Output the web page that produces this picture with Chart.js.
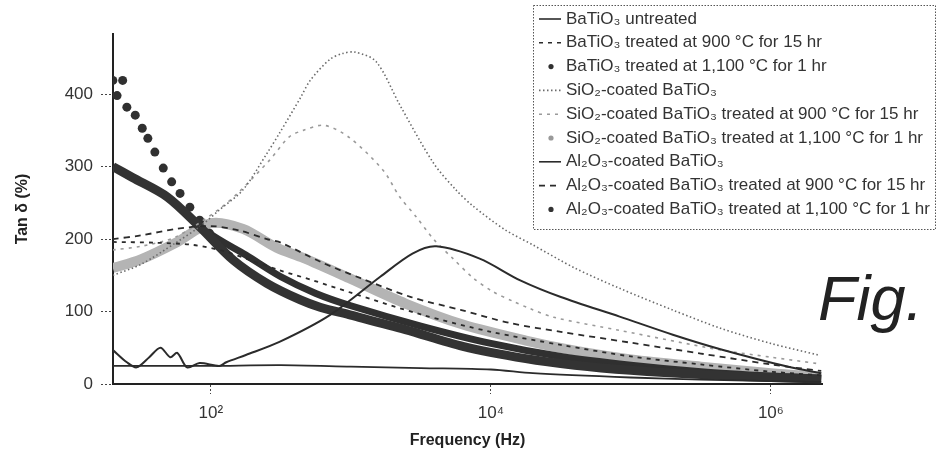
<!DOCTYPE html>
<html>
<head>
<meta charset="utf-8">
<script src="https://cdn.jsdelivr.net/npm/chart.js@4.4.0/dist/chart.umd.min.js"></script>
<style>
  html, body { margin: 0; padding: 0; background: #fff; }
  #wrap { position: relative; width: 938px; height: 462px; }
  #fig { position: absolute; left: 818px; top: 262px; font: italic 63px "Liberation Sans", Arial, sans-serif; color: #222; }
</style>
</head>
<body>
<div id="wrap">
  <canvas id="myChart" width="938" height="462"></canvas>
  <div id="fig">Fig.</div>
</div>
<script>
// frequency is stored as log10(Hz), tan delta in %
const untreatedLogF = [1.3, 1.6, 2.0, 2.5, 3.0, 3.5, 4.0, 4.3, 5.0, 5.5, 6.0, 6.36];
const untreatedTan  = [25, 25, 25, 26, 24, 22, 20, 15, 9, 6, 4, 3];

const bt900LogF = [1.3, 1.6, 1.87, 2.1, 2.28, 2.49, 2.73, 3.0, 3.5, 4.0, 4.5, 5.0, 5.5, 6.0, 6.36];
const bt900Tan  = [196, 195, 192, 183, 171, 157, 143, 126, 96, 72, 54, 38, 27, 17, 12];

const bt1100LogF = [1.30, 1.33, 1.37, 1.40, 1.46, 1.51, 1.55, 1.60, 1.66, 1.72, 1.78, 1.85, 1.92, 1.99, 2.25, 2.5, 2.75, 3.0, 3.5, 4.0, 4.5, 5.0, 5.5, 6.0, 6.36];
const bt1100Tan  = [419, 398, 419, 382, 371, 353, 339, 320, 298, 279, 263, 244, 226, 208, 178, 148, 125, 108, 80, 56, 38, 26, 17, 11, 8];

const sioLogF = [1.3, 1.5, 1.75, 1.92, 2.06, 2.23, 2.4, 2.49, 2.64, 2.71, 2.85, 2.94, 3.03, 3.18, 3.35, 3.59, 3.75, 3.87, 4.1, 4.3, 4.6, 4.92, 5.3, 5.64, 6.0, 6.34];
const sioTan  = [150, 165, 195, 217, 240, 268, 318, 346, 395, 419, 448, 456, 458, 445, 385, 305, 268, 246, 213, 192, 160, 132, 102, 77, 56, 40];

const sio900LogF = [1.3, 1.5, 1.75, 2.05, 2.19, 2.42, 2.56, 2.66, 2.81, 2.99, 3.23, 3.35, 3.47, 3.59, 3.73, 3.87, 4.01, 4.16, 4.28, 4.45, 4.92, 5.64, 6.0, 6.34];
const sio900Tan  = [185, 190, 203, 240, 263, 309, 341, 350, 357, 340, 295, 258, 230, 200, 173, 147, 128, 114, 104, 92, 74, 47, 37, 28];

const sio1100LogF = [1.3, 1.5, 1.75, 2.0, 2.23, 2.47, 2.66, 3.0, 3.39, 3.8, 4.25, 4.6, 5.0, 5.5, 6.0, 6.36];
const sio1100Tan  = [160, 172, 195, 222, 214, 188, 174, 145, 111, 82, 60, 46, 34, 24, 15, 10];

const aloLogF = [1.30, 1.40, 1.47, 1.56, 1.64, 1.71, 1.76, 1.83, 1.92, 2.06, 2.11, 2.25, 2.49, 2.85, 3.21, 3.44, 3.61, 3.92, 4.21, 4.5, 4.92, 5.3, 5.64, 6.14, 6.36];
const aloTan  = [47, 30, 23, 37, 50, 37, 43, 23, 29, 25, 30, 40, 58, 95, 148, 180, 190, 173, 143, 120, 93, 68, 48, 23, 15];

const alo900LogF = [1.3, 1.5, 1.75, 2.0, 2.2, 2.4, 2.5, 2.79, 3.07, 3.43, 3.79, 4.14, 4.5, 5.0, 5.5, 6.0, 6.36];
const alo900Tan  = [200, 205, 214, 218, 212, 200, 195, 168, 146, 120, 102, 84, 72, 57, 42, 27, 18];

const alo1100LogF = [1.30, 1.44, 1.69, 1.92, 2.16, 2.40, 2.64, 2.78, 3.0, 3.39, 3.8, 4.25, 4.6, 5.0, 5.5, 6.0, 6.36];
const alo1100Tan  = [300, 285, 258, 217, 171, 139, 116, 106, 95, 75, 52, 35, 26, 19, 13, 9, 7];

const seriesNames = [
  'BaTiO₃ untreated',
  'BaTiO₃ treated at 900 °C for 15 hr',
  'BaTiO₃ treated at 1,100 °C for 1 hr',
  'SiO₂-coated BaTiO₃',
  'SiO₂-coated BaTiO₃ treated at 900 °C for 15 hr',
  'SiO₂-coated BaTiO₃ treated at 1,100 °C for 1 hr',
  'Al₂O₃-coated BaTiO₃',
  'Al₂O₃-coated BaTiO₃ treated at 900 °C for 15 hr',
  'Al₂O₃-coated BaTiO₃ treated at 1,100 °C for 1 hr'
];

const xTickValues = [1e2, 1e4, 1e6];
const xTickLabels = ['10²', '10⁴', '10⁶'];
const yTickValues = [0, 100, 200, 300, 400];

function pts(lf, v) {
  return lf.map((e, i) => ({ x: Math.pow(10, e), y: v[i] }));
}

const dark = '#2b2b2b';

// legend drawn in a dotted box, top right
const boxLegend = {
  id: 'boxLegend',
  afterDraw(chart) {
    const c = chart.ctx;
    const L = 533, T = 5, R = 936, B = 230;
    c.save();
    c.fillStyle = '#fff';
    c.fillRect(L, T, R - L, B - T);
    c.setLineDash([1.5, 1.5]);
    c.strokeStyle = '#555';
    c.lineWidth = 1;
    c.strokeRect(L + 0.5, T + 0.5, R - L - 1, B - T - 1);
    c.font = '17px "Liberation Sans", Arial, sans-serif';
    c.textBaseline = 'middle';
    chart.data.datasets.forEach((ds, i) => {
      const y = 19 + i * 23.8;
      c.strokeStyle = ds.legendColor || ds.borderColor;
      c.fillStyle = ds.legendColor || ds.borderColor;
      if (ds.legendDot) {
        c.setLineDash([]);
        c.beginPath();
        c.arc(551, y, 2.6, 0, Math.PI * 2);
        c.fill();
      } else {
        c.setLineDash(ds.borderDash || []);
        c.lineWidth = 1.6;
        c.beginPath();
        c.moveTo(539, y);
        c.lineTo(561, y);
        c.stroke();
      }
      c.fillStyle = '#333';
      c.fillText(ds.label, 566, y);
    });
    c.restore();
  }
};

const chartArea = document.getElementById('myChart').getContext('2d');
const myChart = new Chart(chartArea, {
  type: 'line',
  data: {
    datasets: [{
      label: seriesNames[0],
      data: pts(untreatedLogF, untreatedTan),
      borderColor: dark, borderWidth: 1.8, order: 1
    }, {
      label: seriesNames[1],
      data: pts(bt900LogF, bt900Tan),
      borderColor: dark, borderWidth: 1.8, borderDash: [4, 5], order: 2
    }, {
      label: seriesNames[2],
      data: pts(bt1100LogF, bt1100Tan),
      borderColor: '#303030', borderWidth: 7, order: 8,
      legendDot: true,
      pointRadius: ctx => ctx.dataIndex < 14 ? 4.5 : 0,
      pointBackgroundColor: '#303030', pointBorderWidth: 0,
      segment: { borderColor: ctx => ctx.p0DataIndex < 13 ? 'rgba(0,0,0,0)' : undefined }
    }, {
      label: seriesNames[3],
      data: pts(sioLogF, sioTan),
      borderColor: '#6a6a6a', borderWidth: 1.6, borderDash: [1.5, 2.5], order: 3
    }, {
      label: seriesNames[4],
      data: pts(sio900LogF, sio900Tan),
      borderColor: '#9a9a9a', borderWidth: 1.6, borderDash: [3, 5], order: 4
    }, {
      label: seriesNames[5],
      data: pts(sio1100LogF, sio1100Tan),
      borderColor: '#b4b4b4', borderWidth: 10, order: 9,
      legendDot: true, legendColor: '#999'
    }, {
      label: seriesNames[6],
      data: pts(aloLogF, aloTan),
      borderColor: dark, borderWidth: 2, order: 0
    }, {
      label: seriesNames[7],
      data: pts(alo900LogF, alo900Tan),
      borderColor: dark, borderWidth: 1.8, borderDash: [6, 5], order: 2
    }, {
      label: seriesNames[8],
      data: pts(alo1100LogF, alo1100Tan),
      borderColor: '#333', borderWidth: 9, order: 7,
      legendDot: true
    }]
  },
  options: {
    responsive: false,
    animation: false,
    elements: {
      point: { radius: 0 },
      line: { tension: 0.3, fill: false }
    },
    layout: { padding: { left: 0, right: 116, top: 34, bottom: 0 } },
    scales: {
      x: {
        type: 'logarithmic',
        min: 20,
        max: 2.32e6,
        afterBuildTicks: s => { s.ticks = xTickValues.map(v => ({ value: v })); },
        afterFit: s => { s.height = 78; },
        ticks: {
          autoSkip: false, maxRotation: 0, padding: 9,
          color: '#333', font: { size: 17, family: '"Liberation Sans", Arial, sans-serif' },
          callback: v => xTickLabels[xTickValues.indexOf(v)]
        },
        grid: { drawOnChartArea: false, tickLength: 10, tickColor: '#444', tickBorderDash: [2, 2] },
        border: { display: true, color: '#222', width: 2 },
        title: {
          display: true, text: 'Frequency (Hz)', color: '#222',
          font: { size: 16, weight: 'bold', family: '"Liberation Sans", Arial, sans-serif' },
          padding: { top: 0, bottom: 12 }
        }
      },
      y: {
        min: 0,
        max: 483,
        afterBuildTicks: s => { s.ticks = yTickValues.map(v => ({ value: v })); },
        afterFit: s => { s.width = 113; },
        ticks: {
          padding: 8, color: '#333',
          font: { size: 17, family: '"Liberation Sans", Arial, sans-serif' }
        },
        grid: { drawOnChartArea: false, tickLength: 12, tickColor: '#444', tickBorderDash: [2, 2] },
        border: { display: true, color: '#222', width: 2 },
        title: {
          display: true, text: 'Tan δ (%)', color: '#222',
          font: { size: 16, weight: 'bold', family: '"Liberation Sans", Arial, sans-serif' },
          padding: { top: 13, bottom: 0 }
        }
      }
    },
    plugins: {
      legend: { display: false },
      tooltip: { enabled: false }
    }
  },
  plugins: [boxLegend]
});
</script>
</body>
</html>
